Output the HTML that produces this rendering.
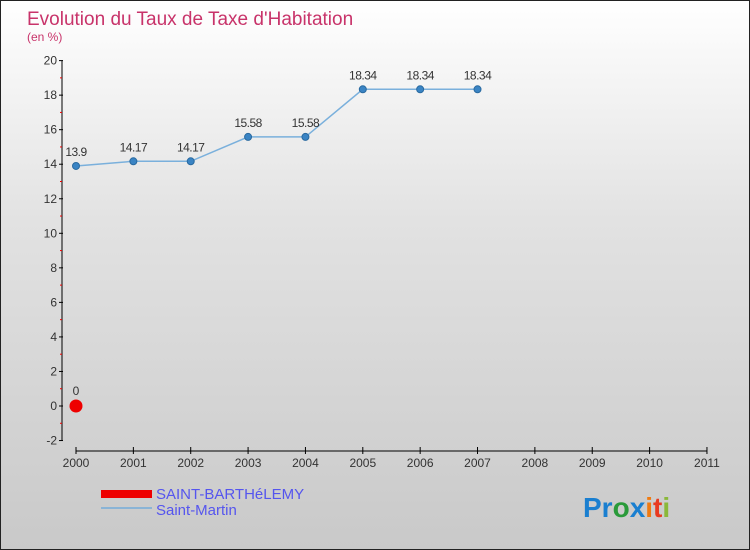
<!DOCTYPE html>
<html><head><meta charset="utf-8"><style>
body{margin:0}
#c{width:748px;height:548px;border:1px solid #222;background:linear-gradient(#fff,#e2e2e2 40%,#c9c9c9);position:relative;font-family:"Liberation Sans",sans-serif;}
</style></head><body>
<div id="c">
<svg id="s" width="748" height="548" style="position:absolute;left:0;top:0">
<text x="26" y="24" font-size="19" fill="#c8336a">Evolution du Taux de Taxe d'Habitation</text>
<text x="26" y="40" font-size="12" fill="#c8336a">(en %)</text>
<g id="ax"></g><g id="marks"></g>
<rect x="100" y="489" width="51" height="8" fill="#e00"/>
<text x="155" y="498" font-size="15" fill="#55e">SAINT-BARTHéLEMY</text>
<rect x="100" y="506" width="51" height="2" fill="#8ab4d6"/>
<text x="155" y="514" font-size="15" fill="#55e">Saint-Martin</text>
<text x="582" y="516" font-size="28" font-weight="bold"><tspan fill="#1a7fd0">Pr</tspan><tspan fill="#2a9a3a">o</tspan><tspan fill="#1a7fd0">x</tspan><tspan fill="#f07a10">i</tspan><tspan fill="#e83a20">t</tspan><tspan fill="#8ab83a">i</tspan></text>
</svg>
</div>
<script>
const years=[2000,2001,2002,2003,2004,2005,2006,2007,2008,2009,2010,2011];
const yTicks=[-2,0,2,4,6,8,10,12,14,16,18,20];
const smYears=[2000,2001,2002,2003,2004,2005,2006,2007];
const smValues=[13.9,14.17,14.17,15.58,15.58,18.34,18.34,18.34];
const sbYears=[2000];
const sbValues=[0];
const NS="http://www.w3.org/2000/svg";
const X=y=>75+(y-2000)*57.36;
const Y=v=>405-v*17.27;
function mk(p,t,a){const e=document.createElementNS(NS,t);for(const k in a)e.setAttribute(k,a[k]);p.appendChild(e);return e;}
const ax=document.getElementById('ax'),mg=document.getElementById('marks');
let l=mk(ax,'line',{x1:61,y1:Y(20),x2:61,y2:Y(-2),stroke:'#000'});


yTicks.forEach(v=>{
 mk(ax,'line',{x1:58,y1:Y(v),x2:62,y2:Y(v),stroke:'#000'});
 if(v<20) mk(ax,'line',{x1:59,y1:Y(v+1),x2:61,y2:Y(v+1),stroke:'#e00'});
 const t=mk(ax,'text',{x:56,y:Y(v)+4,'font-size':12,'text-anchor':'end',fill:'#333'});t.textContent=v;
 
 
});
l=mk(ax,'line',{x1:X(2000),y1:450,x2:X(2011),y2:450,stroke:'#000'});


years.forEach(y=>{
 mk(ax,'line',{x1:X(y),y1:446,x2:X(y),y2:453,stroke:'#000'});
 const t=mk(ax,'text',{x:X(y),y:466,'font-size':12,'text-anchor':'middle',fill:'#333'});t.textContent=y;
 
 
});
const pl=mk(mg,'polyline',{points:smYears.map((y,i)=>X(y)+','+Y(smValues[i])).join(' '),fill:'none',stroke:'#7ab0dc','stroke-width':1.5});


smYears.forEach((y,i)=>{
 const c=mk(mg,'circle',{cx:X(y),cy:Y(smValues[i]),r:3.5,fill:'#3a84c4',stroke:'#2a6aa0'});
 
 
 const t=mk(mg,'text',{x:X(y),y:Y(smValues[i])-10,'font-size':12,'text-anchor':'middle',fill:'#333','letter-spacing':'-0.5'});t.textContent=smValues[i];
 
 
});
sbYears.forEach((y,i)=>{
 const c=mk(mg,'circle',{cx:X(y),cy:Y(sbValues[i]),r:6.5,fill:'#e00'});
 
 
 const t=mk(mg,'text',{x:X(y),y:Y(sbValues[i])-11,'font-size':12,'text-anchor':'middle',fill:'#333'});t.textContent=sbValues[i];
 
 
});
</script>
</body></html>
